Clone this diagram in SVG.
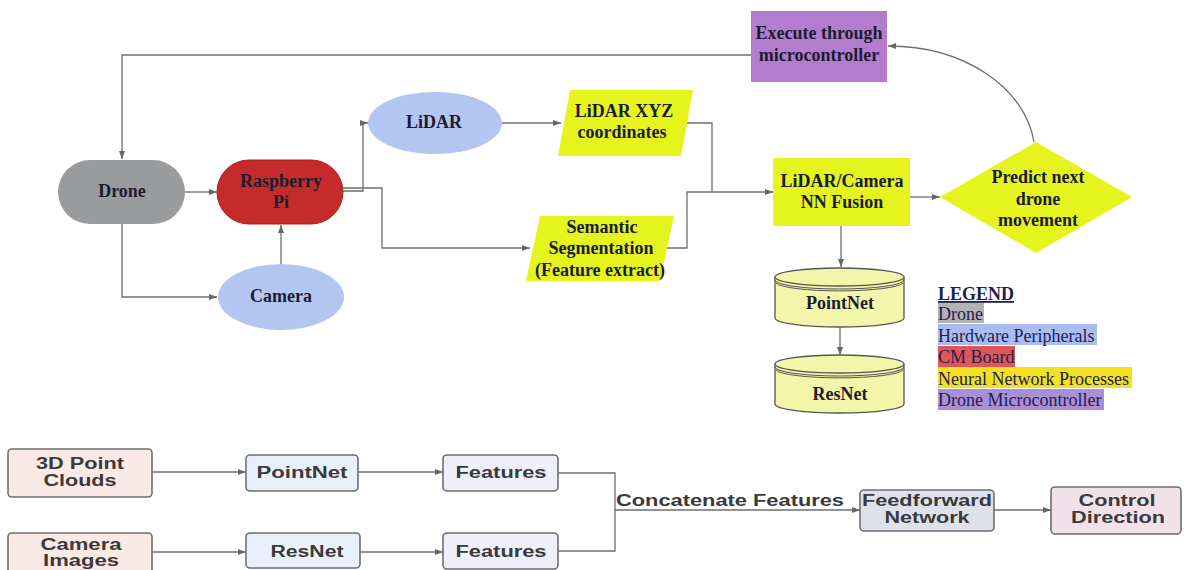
<svg xmlns="http://www.w3.org/2000/svg" width="1186" height="570" viewBox="0 0 1186 570">
  <defs>
    <marker id="arr" markerWidth="8" markerHeight="6" refX="8" refY="3" orient="auto" markerUnits="userSpaceOnUse">
      <path d="M0,0 L8,3 L0,6 z" fill="#666"/>
    </marker>
    <style>
      .t { font-family: "Liberation Serif", "Times New Roman", serif; font-weight: bold; font-size: 18px; fill: #1c1c30; text-anchor: middle; }
      .lg { font-family: "Liberation Serif", "Times New Roman", serif; font-size: 18px; fill: #1d2150; }
      .b { font-family: "Liberation Sans", Arial, sans-serif; font-weight: bold; font-size: 16px; fill: #3a3a3a; text-anchor: middle; }
      .c { stroke: #6f6f6f; stroke-width: 1.3; fill: none; }
      .ca { stroke: #6f6f6f; stroke-width: 1.3; fill: none; marker-end: url(#arr); }
      .nn { fill: #e5f41c; }
      .hw { fill: #b3c6f2; }
      .cyl { fill: #f3f5a8; stroke: #555; stroke-width: 1.3; }
      .rim { fill: none; stroke: #555; stroke-width: 1; }
      .bx { stroke: #6e6e6e; stroke-width: 1.6; }
    </style>
  </defs>

  <rect width="1186" height="570" fill="#ffffff"/>

  <!-- connectors -->
  <g id="connectors">
    <path class="ca" d="M751,55 H122 V159"/>
    <path class="ca" d="M185,192 H217"/>
    <path class="ca" d="M122,224 V297 H217"/>
    <path class="ca" d="M281,264 V225"/>
    <path class="ca" d="M343,191 H363 V123 H368"/>
    <path class="ca" d="M343,188 H382 V248 H530"/>
    <path class="ca" d="M502,123 H561"/>
    <path class="c" d="M687,123 H712 V192"/>
    <path class="ca" d="M667,248 H687 V192 H773"/>
    <path class="ca" d="M910,197 H940"/>
    <path class="ca" d="M1034,142 C1025,88 965,46 888,46"/>
    <path class="ca" d="M841,226 V267"/>
    <path class="ca" d="M840,327 V355"/>

    <path class="ca" d="M152,472 H246"/>
    <path class="ca" d="M358,472 H443"/>
    <path class="ca" d="M152,552 H246"/>
    <path class="ca" d="M360,552 H443"/>
    <path class="c" d="M558,473 H615 V551 H558"/>
    <path class="ca" d="M615,510 H860"/>
    <path class="ca" d="M994,510 H1051"/>
  </g>

  <!-- top flow nodes -->
  <g id="execute">
    <rect x="751" y="11" width="136" height="71" fill="#b47ccd"/>
    <text class="t" x="819" y="39">Execute through</text>
    <text class="t" x="819" y="61">microcontroller</text>
  </g>

  <g id="drone">
    <rect x="58" y="160" width="127" height="64" rx="32" fill="#9a9b9d"/>
    <text class="t" x="122" y="197">Drone</text>
  </g>

  <g id="raspberry-pi">
    <rect x="217" y="160" width="126" height="64" rx="32" fill="#c62b2b" stroke="#b21f1f" stroke-width="1"/>
    <text class="t" x="281" y="187">Raspberry</text>
    <text class="t" x="281" y="208">Pi</text>
  </g>

  <g id="camera">
    <ellipse class="hw" cx="281" cy="297" rx="63" ry="33"/>
    <text class="t" x="281" y="302">Camera</text>
  </g>

  <g id="lidar">
    <ellipse class="hw" cx="435" cy="123" rx="67" ry="31"/>
    <text class="t" x="434" y="128">LiDAR</text>
  </g>

  <g id="lidar-xyz">
    <path class="nn" d="M570,90 H693 L681,156 H558 z"/>
    <text class="t" x="624" y="117">LiDAR XYZ</text>
    <text class="t" x="622" y="138">coordinates</text>
  </g>

  <g id="semantic-segmentation">
    <path class="nn" d="M540,216 H674 L660,281 H526 z"/>
    <text class="t" x="602" y="233">Semantic</text>
    <text class="t" x="601" y="254">Segmentation</text>
    <text class="t" x="600" y="276">(Feature extract)</text>
  </g>

  <g id="fusion">
    <rect class="nn" x="773" y="158" width="137" height="68"/>
    <text class="t" x="842" y="187">LiDAR/Camera</text>
    <text class="t" x="842" y="208">NN Fusion</text>
  </g>

  <g id="predict">
    <path class="nn" d="M1036,142 L1132,197 L1036,253 L940,197 z"/>
    <text class="t" x="1038" y="183">Predict next</text>
    <text class="t" x="1038" y="205">drone</text>
    <text class="t" x="1038" y="226">movement</text>
  </g>

  <g id="pointnet-db">
    <path class="cyl" d="M775,277 V318 A64.5,9 0 0 0 904,318 V277"/>
    <ellipse class="cyl" cx="839.5" cy="277" rx="64.5" ry="9"/>
    <path class="rim" d="M775,280 A64.5,9 0 0 0 904,280"/>
    <path class="rim" d="M776,283 A64,9 0 0 0 903,283"/>
    <text class="t" x="840" y="309">PointNet</text>
  </g>

  <g id="resnet-db">
    <path class="cyl" d="M775,364 V404 A64.5,9 0 0 0 904,404 V364"/>
    <ellipse class="cyl" cx="839.5" cy="364" rx="64.5" ry="9"/>
    <path class="rim" d="M775,367 A64.5,9 0 0 0 904,367"/>
    <path class="rim" d="M776,370 A64,9 0 0 0 903,370"/>
    <text class="t" x="840" y="400">ResNet</text>
  </g>

  <!-- legend -->
  <g id="legend">
    <rect x="938" y="302" width="46" height="21" fill="#b3b3b3"/>
    <rect x="938" y="324" width="159" height="21" fill="#a9bdf0"/>
    <rect x="938" y="346" width="77" height="21" fill="#e05656"/>
    <rect x="938" y="367" width="194" height="21" fill="#f3e01e"/>
    <rect x="938" y="389" width="166" height="21" fill="#a98fd6"/>
    <text class="lg" x="938" y="300" font-weight="bold" text-decoration="underline" fill="#111">LEGEND</text>
    <text class="lg" x="938" y="320">Drone</text>
    <text class="lg" x="938" y="342">Hardware Peripherals</text>
    <text class="lg" x="938" y="363">CM Board</text>
    <text class="lg" x="938" y="385">Neural Network Processes</text>
    <text class="lg" x="938" y="406">Drone Microcontroller</text>
  </g>

  <!-- lower pipeline -->
  <g id="point-clouds">
    <rect class="bx" x="8" y="449" width="144" height="48" rx="4" fill="#fbe9e6"/>
    <text class="b" x="80" y="469" textLength="88" lengthAdjust="spacingAndGlyphs">3D Point</text>
    <text class="b" x="80" y="486" textLength="73" lengthAdjust="spacingAndGlyphs">Clouds</text>
  </g>

  <g id="camera-images">
    <rect class="bx" x="8" y="533" width="144" height="48" rx="4" fill="#fbe9e6"/>
    <text class="b" x="81" y="550" textLength="81" lengthAdjust="spacingAndGlyphs">Camera</text>
    <text class="b" x="81" y="566" textLength="76" lengthAdjust="spacingAndGlyphs">Images</text>
  </g>

  <g id="pointnet">
    <rect class="bx" x="246" y="455" width="112" height="36" rx="4" fill="#eaf0fb"/>
    <text class="b" x="302" y="478" textLength="91" lengthAdjust="spacingAndGlyphs">PointNet</text>
  </g>

  <g id="resnet">
    <rect class="bx" x="246" y="533" width="114" height="35" rx="4" fill="#eaf0fb"/>
    <text class="b" x="307" y="557" textLength="73" lengthAdjust="spacingAndGlyphs">ResNet</text>
  </g>

  <g id="features-1">
    <rect class="bx" x="443" y="455" width="115" height="36" rx="4" fill="#efeffb"/>
    <text class="b" x="501" y="478" textLength="91" lengthAdjust="spacingAndGlyphs">Features</text>
  </g>

  <g id="features-2">
    <rect class="bx" x="443" y="533" width="115" height="36" rx="4" fill="#efeffb"/>
    <text class="b" x="501" y="557" textLength="91" lengthAdjust="spacingAndGlyphs">Features</text>
  </g>

  <text id="concat-label" class="b" x="730" y="506" textLength="228" lengthAdjust="spacingAndGlyphs">Concatenate Features</text>

  <g id="feedforward">
    <rect class="bx" x="860" y="490" width="134" height="41" rx="4" fill="#dfe1ea"/>
    <text class="b" x="927" y="506" textLength="130" lengthAdjust="spacingAndGlyphs">Feedforward</text>
    <text class="b" x="927" y="523" textLength="85" lengthAdjust="spacingAndGlyphs">Network</text>
  </g>

  <g id="control">
    <rect class="bx" x="1051" y="487" width="130" height="47" rx="4" fill="#f2e1e8"/>
    <text class="b" x="1117" y="506" textLength="77" lengthAdjust="spacingAndGlyphs">Control</text>
    <text class="b" x="1118" y="523" textLength="94" lengthAdjust="spacingAndGlyphs">Direction</text>
  </g>
</svg>
